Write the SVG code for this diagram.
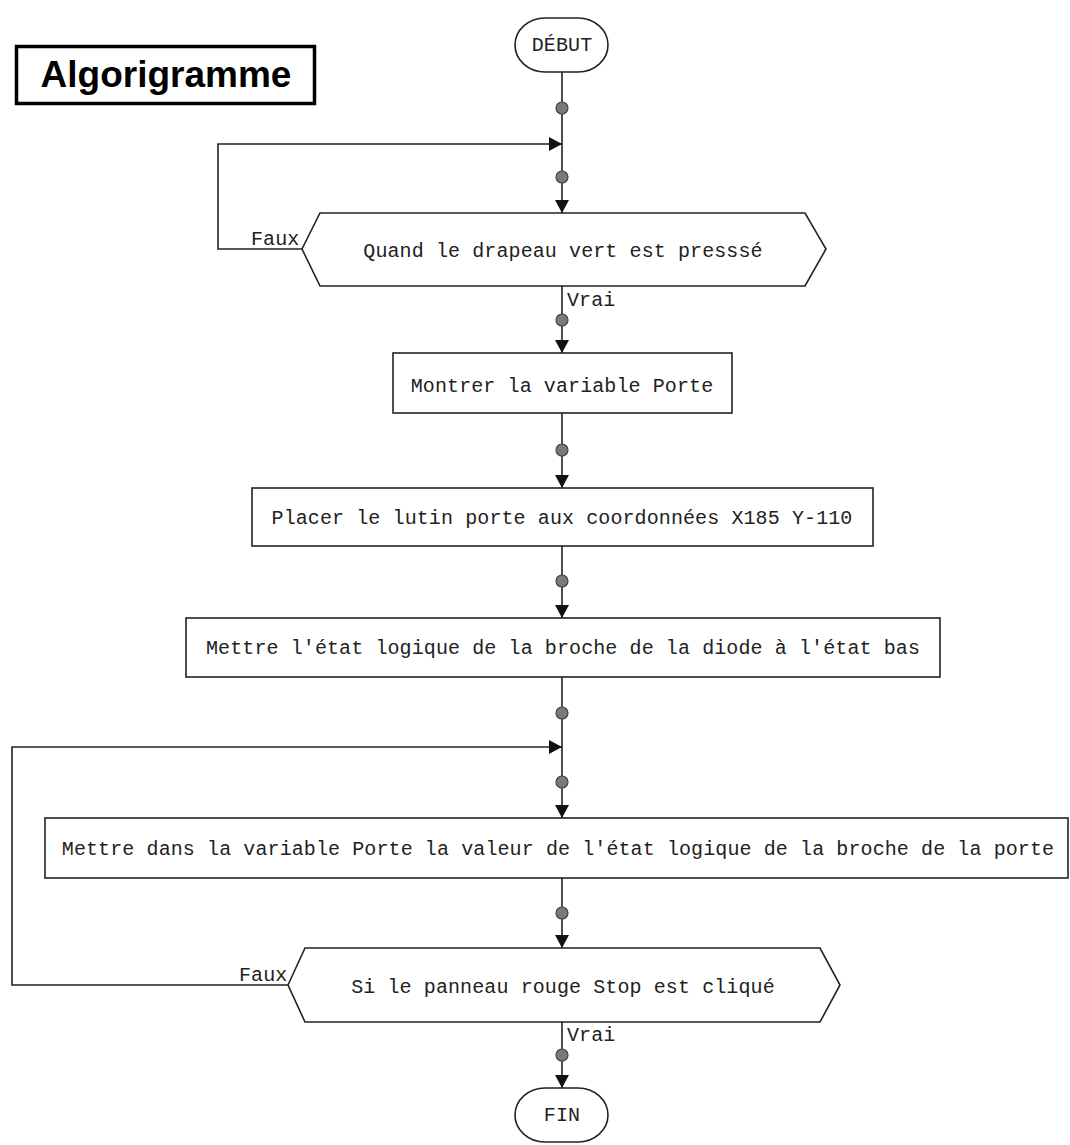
<svg xmlns="http://www.w3.org/2000/svg" width="1070" height="1145" viewBox="0 0 1070 1145">
<defs>
<style>
.shape{fill:#fff;stroke:#222;stroke-width:1.6}
.t{font-family:"Liberation Mono","DejaVu Sans Mono",monospace;font-size:20px;letter-spacing:0.1px;fill:#222;text-anchor:middle;dominant-baseline:central}
.lbl{font-family:"Liberation Mono","DejaVu Sans Mono",monospace;font-size:20px;letter-spacing:0.1px;fill:#222}
.c{fill:none;stroke:#222;stroke-width:1.6}
.dot{fill:#7a7a7a;stroke:#444;stroke-width:1.2}
</style>
<marker id="ah" viewBox="0 0 13 14" refX="13" refY="7" markerWidth="13" markerHeight="14" markerUnits="userSpaceOnUse" orient="auto">
<path d="M0,0 L13,7 L0,14 Z" fill="#111"/>
</marker>
</defs>
<rect width="1070" height="1145" fill="#fff"/>

<g id="title">
<rect x="16.5" y="46.5" width="298" height="57" fill="#fff" stroke="#000" stroke-width="3.5"/>
<text x="166" y="87" font-family="Liberation Sans,Arial,sans-serif" font-size="37" font-weight="bold" text-anchor="middle" fill="#000">Algorigramme</text>
</g>

<g id="connectors">
<line class="c" x1="562" y1="72" x2="562" y2="213" marker-end="url(#ah)"/>
<polyline class="c" points="302,249 218,249 218,144 562,144" marker-end="url(#ah)"/>
<line class="c" x1="562" y1="286" x2="562" y2="353" marker-end="url(#ah)"/>
<line class="c" x1="562" y1="413" x2="562" y2="488" marker-end="url(#ah)"/>
<line class="c" x1="562" y1="546" x2="562" y2="618" marker-end="url(#ah)"/>
<line class="c" x1="562" y1="677" x2="562" y2="818" marker-end="url(#ah)"/>
<polyline class="c" points="288,985 12,985 12,747 562,747" marker-end="url(#ah)"/>
<line class="c" x1="562" y1="878" x2="562" y2="948" marker-end="url(#ah)"/>
<line class="c" x1="562" y1="1022" x2="562" y2="1088" marker-end="url(#ah)"/>
<circle class="dot" cx="562" cy="108" r="6"/>
<circle class="dot" cx="562" cy="177" r="6"/>
<circle class="dot" cx="562" cy="320" r="6"/>
<circle class="dot" cx="562" cy="450" r="6"/>
<circle class="dot" cx="562" cy="581" r="6"/>
<circle class="dot" cx="562" cy="713" r="6"/>
<circle class="dot" cx="562" cy="782" r="6"/>
<circle class="dot" cx="562" cy="913" r="6"/>
<circle class="dot" cx="562" cy="1055" r="6"/>
<text class="lbl" x="251" y="245">Faux</text>
<text class="lbl" x="567" y="306">Vrai</text>
<text class="lbl" x="239" y="981">Faux</text>
<text class="lbl" x="567" y="1041">Vrai</text>
</g>

<g id="debut">
<rect class="shape" x="515" y="18" width="93" height="54" rx="30" ry="27"/>
<text class="t" x="562" y="45">DÉBUT</text>
</g>

<g id="cond1">
<polygon class="shape" points="302,249 320,213 805,213 826,249 805,286 320,286"/>
<text class="t" x="563" y="251">Quand le drapeau vert est presssé</text>
</g>

<g id="box1">
<rect class="shape" x="393" y="353" width="339" height="60"/>
<text class="t" x="562" y="386">Montrer la variable Porte</text>
</g>

<g id="box2">
<rect class="shape" x="252" y="488" width="621" height="58"/>
<text class="t" x="562" y="518">Placer le lutin porte aux coordonnées X185 Y-110</text>
</g>

<g id="box3">
<rect class="shape" x="186" y="618" width="754" height="59"/>
<text class="t" x="563" y="648">Mettre l'état logique de la broche de la diode à l'état bas</text>
</g>

<g id="box4">
<rect class="shape" x="45" y="818" width="1023" height="60"/>
<text class="t" x="558" y="849">Mettre dans la variable Porte la valeur de l'état logique de la broche de la porte</text>
</g>

<g id="cond2">
<polygon class="shape" points="288,985 305,948 820,948 840,985 820,1022 305,1022"/>
<text class="t" x="563" y="987">Si le panneau rouge Stop est cliqué</text>
</g>

<g id="fin">
<rect class="shape" x="515" y="1088" width="93" height="54" rx="30" ry="27"/>
<text class="t" x="562" y="1115">FIN</text>
</g>
</svg>
